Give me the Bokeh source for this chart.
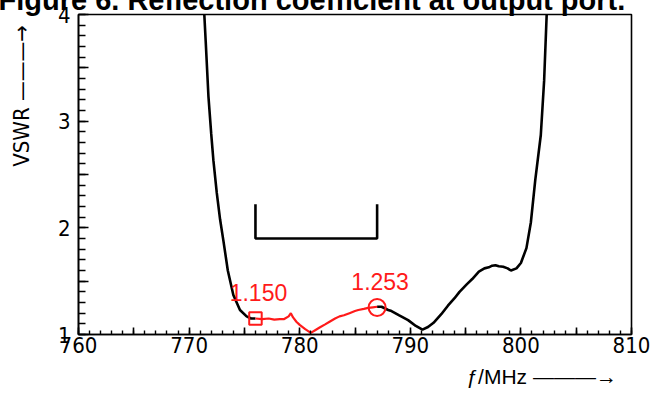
import numpy as np
from bokeh.plotting import figure
from bokeh.models import Range1d, FixedTicker
from bokeh.embed import file_html
from bokeh.resources import INLINE
from bokeh.core.properties import value

# ---------------- data ----------------
freq = [771.35, 771.5, 771.75, 772.0, 772.2, 772.5, 772.8, 773.1, 773.5, 774.0,
        774.6, 775.2, 775.6, 776.0,
        776.6, 777.2, 777.7, 778.2, 778.6, 779.0, 779.2, 779.4, 779.7, 780.0,
        780.5, 781.0, 781.4, 781.8, 782.3, 782.7, 783.2, 783.6, 784.0, 784.5,
        785.0, 785.3, 785.8, 786.2, 786.6, 787.0,
        787.4, 788.0, 788.3, 789.0, 789.8, 790.5, 791.1, 791.6, 792.1, 792.8,
        793.4, 794.0, 794.45, 795.1, 795.6, 796.2, 796.7, 797.1, 797.4, 797.7,
        798.0, 798.4, 798.8, 799.1, 799.6, 800.0, 800.5, 800.9, 801.3, 801.8,
        802.1, 802.35]
vswr = [4.05, 3.75, 3.23, 2.88, 2.63, 2.33, 2.08, 1.88, 1.60, 1.37,
        1.23, 1.17, 1.15, 1.15,
        1.145, 1.15, 1.14, 1.145, 1.145, 1.17, 1.20, 1.16, 1.12, 1.09,
        1.05, 1.015, 1.04, 1.065, 1.095, 1.12, 1.15, 1.17, 1.18, 1.20,
        1.22, 1.23, 1.24, 1.25, 1.255, 1.26,
        1.26, 1.23, 1.22, 1.18, 1.135, 1.08, 1.045, 1.07, 1.11, 1.19,
        1.27, 1.34, 1.40, 1.47, 1.52, 1.59, 1.62, 1.63, 1.645, 1.65,
        1.64, 1.635, 1.62, 1.60, 1.62, 1.67, 1.81, 2.05, 2.45, 2.87,
        3.38, 4.05]

band_start = 776
band_end = 787
spec_vswr = 1.9
spec_top = 2.22

marker_freq = [776, 787]
marker_vswr = [1.150, 1.253]
marker_text = ["1.150", "1.253"]

x_major = list(range(760, 811, 5))
x_minor = list(range(760, 811, 1))
x_labels = {t: (str(t) if t % 10 == 0 else "") for t in x_major}
y_major = [1, 1.5, 2, 2.5, 3, 3.5, 4]
y_minor = [round(1 + 0.1 * i, 1) for i in range(31)]
y_labels = {1: "1", 1.5: "", 2: "2", 2.5: "", 3: "3", 3.5: "", 4: "4"}

title_text = "Figure 6. Reflection coefficient at output port."
y_title = "VSWR \u2014\u2014\u2014\u2192"
x_title = "\u0192/MHz \u2014\u2014\u2014\u2192"

# ---------------- derived ----------------
f = np.array(freq)
v = np.array(vswr)
outside = (f <= band_start) | (f >= band_end)
inside = (f >= band_start) & (f <= band_end)
black_y = np.where(outside, v, np.nan)
red_y = np.where(inside, v, np.nan)

NBSP = "\u00a0"
SANS = "'Liberation Sans', Arial, sans-serif"
NARROW = "'Liberation Sans Narrow', 'DejaVu Sans Condensed', 'Liberation Sans', sans-serif"
RED = "#ff1a1a"

p = figure(width=651, height=394, output_backend="svg", toolbar_location=None,
           x_range=Range1d(760, 810), y_range=Range1d(1, 4))
p.min_border_left = 78
p.min_border_right = 20
p.min_border_top = 14
p.min_border_bottom = 60
p.background_fill_color = "white"
p.border_fill_color = "white"
p.outline_line_color = "black"
p.outline_line_width = 1.6
p.xgrid.visible = False
p.ygrid.visible = False

# title (partly cut at the top, as in the reference)
p.title.text = title_text
p.title.text_font = SANS
p.title.text_font_size = "29px"
p.title.text_font_style = "bold"
p.title.text_color = "black"
p.title.align = "left"
p.title.offset = -80
p.title.standoff = -62
p.title.vertical_align = "top"

for ax in (p.xaxis[0], p.yaxis[0]):
    ax.axis_line_color = "black"
    ax.axis_line_width = 1.6
    ax.major_tick_line_color = "black"
    ax.major_tick_line_width = 1.6
    ax.minor_tick_line_color = "black"
    ax.minor_tick_line_width = 1.4
    ax.major_tick_out = 0
    ax.minor_tick_out = 0
    ax.major_label_text_font = NARROW
    ax.major_label_text_font_size = "22px"
    ax.major_label_text_color = "black"
    ax.axis_label_text_color = "black"
    ax.axis_label_text_font_style = "normal"

xa = p.xaxis[0]
xa.ticker = FixedTicker(ticks=x_major, minor_ticks=x_minor)
xa.major_label_overrides = x_labels
xa.major_tick_in = 7
xa.minor_tick_in = 4
xa.major_label_standoff = 2
# centred label, padded in front so that the visible part sits at the right
xa.axis_label = NBSP * 64 + x_title
xa.axis_label_text_font = SANS
xa.axis_label_text_font_size = "21px"
xa.axis_label_standoff = 9

ya = p.yaxis[0]
ya.ticker = FixedTicker(ticks=y_major, minor_ticks=y_minor)
ya.major_label_overrides = y_labels
ya.major_tick_in = 10
ya.minor_tick_in = 7
ya.major_label_standoff = 8
# centred label, padded in front so that the visible part sits near the top
ya.axis_label = NBSP * 25 + y_title
ya.axis_label_text_font = NARROW
ya.axis_label_text_font_size = "22px"
ya.axis_label_standoff = 21

# curve
p.line(f, black_y, line_color="black", line_width=2.6)
p.line(f, red_y, line_color=RED, line_width=2.2)

# spec bracket
p.line([band_start, band_start, band_end, band_end],
       [spec_top, spec_vswr, spec_vswr, spec_top],
       line_color="black", line_width=2.6)

# markers
p.scatter([marker_freq[0]], [marker_vswr[0]], marker="square", size=12.5,
          fill_color=None, line_color=RED, line_width=2)
p.scatter([marker_freq[1]], [marker_vswr[1]], marker="circle", size=17,
          fill_color=None, line_color=RED, line_width=2)
p.text(marker_freq, marker_vswr, text=marker_text, text_color=RED,
       text_font=value(SANS), text_font_size="23px", text_align="center",
       text_baseline="alphabetic", x_offset=3, y_offset=-26)

open("out.html", "w").write(file_html(p, INLINE))
